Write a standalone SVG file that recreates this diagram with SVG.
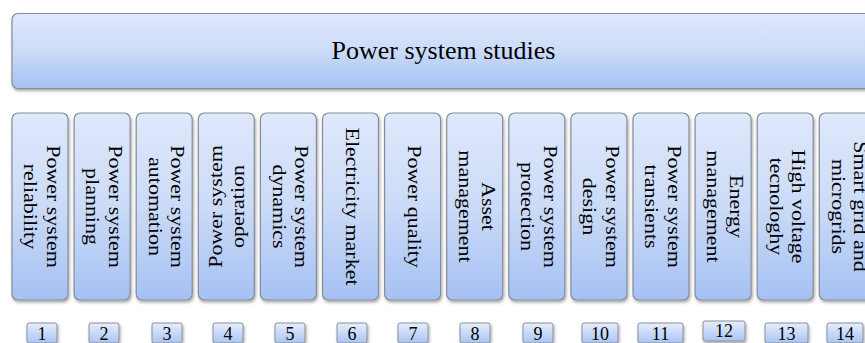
<svg xmlns="http://www.w3.org/2000/svg" width="865" height="343" viewBox="0 0 865 343">
<defs>
<linearGradient id="blue" x1="0" y1="0" x2="0" y2="1">
<stop offset="0" stop-color="#dfe8fb"/>
<stop offset="0.5" stop-color="#cbdbf8"/>
<stop offset="1" stop-color="#a5c1f3"/>
</linearGradient>
<linearGradient id="num" x1="0" y1="0" x2="0" y2="1">
<stop offset="0" stop-color="#e6eefc"/>
<stop offset="1" stop-color="#a9c5f5"/>
</linearGradient>
<filter id="sh" x="-10%" y="-10%" width="130%" height="130%">
<feDropShadow dx="1" dy="2" stdDeviation="1.5" flood-color="#000" flood-opacity="0.35"/>
</filter>
</defs>
<style>
.box{fill:url(#blue);stroke:#878d97;stroke-width:1.2;filter:url(#sh);}
.nb{fill:url(#num);stroke:#8a9099;stroke-width:1;filter:url(#sh);}
.t{font-family:"Liberation Serif","Times New Roman",serif;fill:#000;text-anchor:middle;}
.title{font-size:26px;}
.col{font-size:22px;}
.n{font-size:18px;}
</style>
<rect width="865" height="343" fill="#fff"/>
<g id="connectors"/>
<g id="power-system-studies">
<rect class="box" x="12" y="13.5" width="880" height="75" rx="6"/>
<text class="t title" x="443.5" y="59">Power system studies</text>
</g>
<g id="col1">
<rect class="box" x="12" y="113" width="56" height="187" rx="6"/>
<text class="t col" transform="translate(40,206.5) rotate(90) scale(1,0.9)"><tspan x="0" y="-7.6">Power system</tspan><tspan x="0" y="17.4">reliability</tspan></text>
</g>
<g id="col2">
<rect class="box" x="74.1" y="113" width="56" height="187" rx="6"/>
<text class="t col" transform="translate(102.1,206.5) rotate(90) scale(1,0.9)"><tspan x="0" y="-7.6">Power system</tspan><tspan x="0" y="17.4">planning</tspan></text>
</g>
<g id="col3">
<rect class="box" x="136.2" y="113" width="56" height="187" rx="6"/>
<text class="t col" transform="translate(164.2,206.5) rotate(90) scale(1,0.9)"><tspan x="0" y="-7.6">Power system</tspan><tspan x="0" y="17.4">automation</tspan></text>
</g>
<g id="col4">
<rect class="box" x="198.3" y="113" width="56" height="187" rx="6"/>
<text class="t col" transform="translate(228.5,206.5) rotate(-90) scale(1,0.9)"><tspan x="0" y="-7.6">Power system</tspan><tspan x="0" y="17.4">operation</tspan></text>
</g>
<g id="col5">
<rect class="box" x="260.4" y="113" width="56" height="187" rx="6"/>
<text class="t col" transform="translate(288.4,206.5) rotate(90) scale(1,0.9)"><tspan x="0" y="-7.6">Power system</tspan><tspan x="0" y="17.4">dynamics</tspan></text>
</g>
<g id="col6">
<rect class="box" x="322.5" y="113" width="56" height="187" rx="6"/>
<text class="t col" transform="translate(350.5,206.5) rotate(90) scale(1,0.9)" y="5.5">Electricity market</text>
</g>
<g id="col7">
<rect class="box" x="384.6" y="113" width="56" height="187" rx="6"/>
<text class="t col" transform="translate(412.6,206.5) rotate(90) scale(1,0.9)" y="5.5">Power quality</text>
</g>
<g id="col8">
<rect class="box" x="446.7" y="113" width="56" height="187" rx="6"/>
<text class="t col" transform="translate(474.7,206.5) rotate(90) scale(1,0.9)"><tspan x="0" y="-7.6">Asset</tspan><tspan x="0" y="17.4">management</tspan></text>
</g>
<g id="col9">
<rect class="box" x="508.8" y="113" width="56" height="187" rx="6"/>
<text class="t col" transform="translate(536.8,206.5) rotate(90) scale(1,0.9)"><tspan x="0" y="-7.6">Power system</tspan><tspan x="0" y="17.4">protection</tspan></text>
</g>
<g id="col10">
<rect class="box" x="570.9" y="113" width="56" height="187" rx="6"/>
<text class="t col" transform="translate(598.9,206.5) rotate(90) scale(1,0.9)"><tspan x="0" y="-7.6">Power system</tspan><tspan x="0" y="17.4">design</tspan></text>
</g>
<g id="col11">
<rect class="box" x="633" y="113" width="56" height="187" rx="6"/>
<text class="t col" transform="translate(661,206.5) rotate(90) scale(1,0.9)"><tspan x="0" y="-7.6">Power system</tspan><tspan x="0" y="17.4">transients</tspan></text>
</g>
<g id="col12">
<rect class="box" x="695.1" y="113" width="56" height="187" rx="6"/>
<text class="t col" transform="translate(723.1,206.5) rotate(90) scale(1,0.9)"><tspan x="0" y="-7.6">Energy</tspan><tspan x="0" y="17.4">management</tspan></text>
</g>
<g id="col13">
<rect class="box" x="757.2" y="113" width="56" height="187" rx="6"/>
<text class="t col" transform="translate(785.2,206.5) rotate(90) scale(1,0.9)"><tspan x="0" y="-7.6">High voltage</tspan><tspan x="0" y="17.4">tecnologhy</tspan></text>
</g>
<g id="col14">
<rect class="box" x="819.3" y="113" width="56" height="187" rx="6"/>
<text class="t col" transform="translate(847.3,206.5) rotate(90) scale(1,0.9)"><tspan x="0" y="-7.6">Smart grid and</tspan><tspan x="0" y="17.4">microgrids</tspan></text>
</g>
<g id="num1"><rect class="nb" x="27" y="323" width="30" height="20" rx="2"/><text class="t n" x="42" y="339.5">1</text></g>
<g id="num2"><rect class="nb" x="89" y="323" width="30" height="20" rx="2"/><text class="t n" x="104" y="339.5">2</text></g>
<g id="num3"><rect class="nb" x="152" y="323" width="30" height="20" rx="2"/><text class="t n" x="167" y="339.5">3</text></g>
<g id="num4"><rect class="nb" x="213" y="323" width="30" height="20" rx="2"/><text class="t n" x="228" y="339.5">4</text></g>
<g id="num5"><rect class="nb" x="275" y="323" width="30" height="20" rx="2"/><text class="t n" x="290" y="339.5">5</text></g>
<g id="num6"><rect class="nb" x="337" y="323" width="30" height="20" rx="2"/><text class="t n" x="352" y="339.5">6</text></g>
<g id="num7"><rect class="nb" x="398" y="323" width="30" height="20" rx="2"/><text class="t n" x="413" y="339.5">7</text></g>
<g id="num8"><rect class="nb" x="460" y="323" width="30" height="20" rx="2"/><text class="t n" x="475" y="339.5">8</text></g>
<g id="num9"><rect class="nb" x="523" y="323" width="30" height="20" rx="2"/><text class="t n" x="538" y="339.5">9</text></g>
<g id="num10"><rect class="nb" x="582" y="323" width="36" height="20" rx="2"/><text class="t n" x="600" y="339.5">10</text></g>
<g id="num11"><rect class="nb" x="638" y="323" width="45" height="20" rx="2"/><text class="t n" x="660.5" y="339.5">11</text></g>
<g id="num12"><rect class="nb" x="703" y="321" width="42" height="20" rx="2"/><text class="t n" x="724" y="337">12</text></g>
<g id="num13"><rect class="nb" x="765" y="323" width="43" height="20" rx="2"/><text class="t n" x="786.5" y="339.5">13</text></g>
<g id="num14"><rect class="nb" x="827" y="323" width="36" height="20" rx="2"/><text class="t n" x="845" y="339.5">14</text></g>
</svg>
